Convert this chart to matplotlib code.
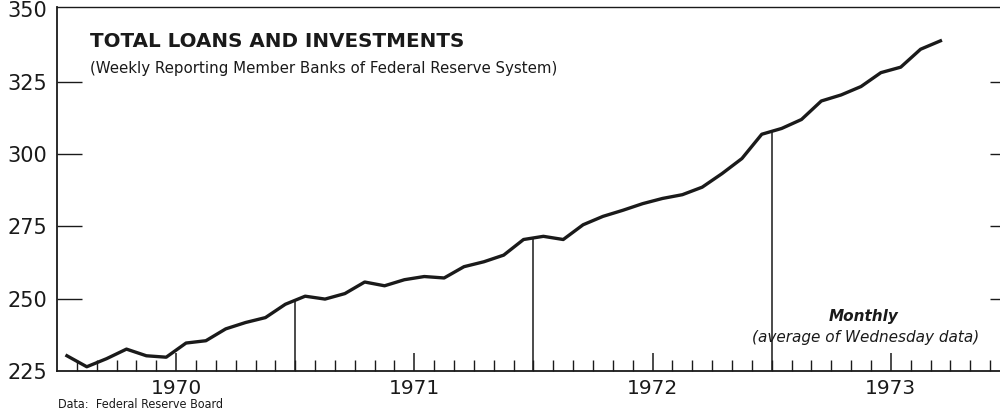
import numpy as np
import matplotlib.pyplot as plt

# months counted from Jan 1970 (0 = Jan 1970), values plotted at mid-month
MONTHS = list(range(-6, 39))  # Jul 1969 .. Mar 1973
VALUES = [
    230.2, 226.4, 229.2, 232.5, 230.2, 229.7,            # Jul-Dec 1969
    234.6, 235.4, 239.5, 241.7, 243.4, 248.0,            # Jan-Jun 1970
    250.8, 249.8, 251.7, 255.7, 254.4, 256.5,            # Jul-Dec 1970
    257.6, 257.1, 261.0, 262.7, 265.0, 270.4,            # Jan-Jun 1971
    271.5, 270.4, 275.5, 278.4, 280.5, 282.8,            # Jul-Dec 1971
    284.6, 285.9, 288.5, 293.2, 298.4, 306.8,            # Jan-Jun 1972
    308.8, 311.9, 318.3, 320.4, 323.3, 328.1,            # Jul-Dec 1972
    330.0, 336.2, 339.1,                                 # Jan-Mar 1973
]
YEARS = ["1970", "1971", "1972", "1973"]
YEAR_STARTS = [0, 12, 24, 36]
MIDYEAR_MARKS = [6, 18, 30]  # July 1 of 1970, 1971, 1972
Y_TICKS = [225, 250, 275, 300, 325, 350]

INK = "#1a1a1a"


def main():
    x = np.array(MONTHS) + 0.5
    y = np.array(VALUES)

    fig = plt.figure(figsize=(10, 4.12), dpi=100)
    ax = fig.add_axes([0.057, 0.1, 0.943, 0.883])

    ax.plot(x, y, color=INK, lw=2.4, solid_joinstyle="round", zorder=3)

    for m in MIDYEAR_MARKS:
        top = np.interp(m, x, y)
        ax.vlines(m, 225, top, color=INK, lw=1.1, zorder=2)

    ax.set_xlim(-6, 41.5)
    ax.set_ylim(225, 350.8)

    # spines
    ax.spines["right"].set_visible(False)
    for s in ("left", "bottom", "top"):
        ax.spines[s].set_color(INK)
        ax.spines[s].set_linewidth(1.3)
    ax.spines["top"].set_linewidth(1.0)

    # x ticks: years at January, monthly minor ticks
    ax.set_xticks(YEAR_STARTS)
    ax.set_xticklabels(YEARS, fontsize=14.5, color=INK)
    ax.set_xticks(range(-5, 42), minor=True)
    ax.tick_params(axis="x", which="major", direction="in", length=13,
                   width=1.1, color=INK, pad=6, top=False)
    ax.tick_params(axis="x", which="minor", direction="in", length=8,
                   width=1.0, color=INK, top=False)

    ax.set_yticks(Y_TICKS)
    ax.set_yticklabels([str(v) for v in Y_TICKS], fontsize=15, color=INK)
    ax.tick_params(axis="y", direction="in", length=18, width=1.0,
                   color=INK, pad=7, right=True)
    for tick in ax.yaxis.get_major_ticks():
        tick.tick2line.set_markersize(7)
        if tick.get_loc() in (225, 350):
            tick.tick1line.set_visible(False)
            tick.tick2line.set_visible(False)

    ax.text(0.035, 0.905, "TOTAL LOANS AND INVESTMENTS", transform=ax.transAxes,
            fontsize=14.3, fontweight="bold", color=INK, va="center")
    ax.text(0.035, 0.83,
            "(Weekly Reporting Member Banks of Federal Reserve System)",
            transform=ax.transAxes, fontsize=10.8, color=INK, va="center")

    fig.text(0.864, 0.232, "Monthly", fontsize=11, fontweight="bold",
             style="italic", color=INK, ha="center", va="center")
    fig.text(0.866, 0.182, "(average of Wednesday data)", fontsize=11,
             style="italic", color=INK, ha="center", va="center")

    fig.text(0.058, 0.018, "Data:  Federal Reserve Board", fontsize=9,
             fontstretch="condensed", color=INK, ha="left", va="center",
             family="DejaVu Sans")

    fig.savefig("out.png", dpi=100)
    plt.close(fig)


if __name__ == "__main__":
    main()
